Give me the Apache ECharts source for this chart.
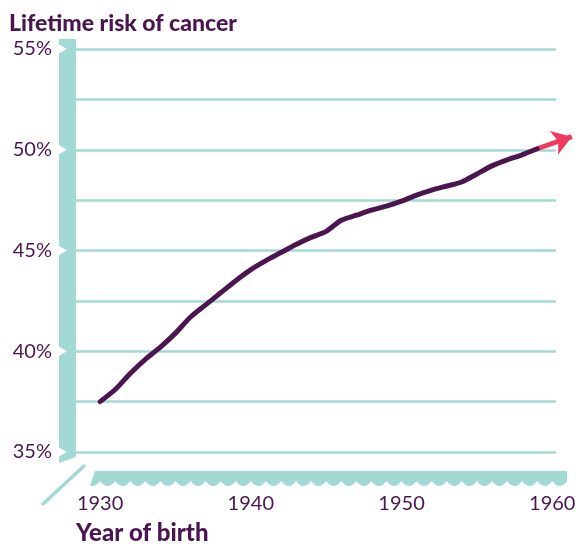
<!DOCTYPE html>
<html>
	<head>
		<meta charset="utf-8" />
		<title>Lifetime risk of cancer</title>
		<script src="https://cdn.jsdelivr.net/npm/echarts@6/dist/echarts.min.js"></script>
		<style type="text/css">
			html,body{margin:0;padding:0;background:#fff;}
			#main{width:580px;height:544px;}
		</style>
	</head>
	<body>
		<div id="main"></div>
		<script type="text/javascript">
			// data
			var years = [1930,1931,1932,1933,1934,1935,1936,1937,1938,1939,1940,1941,1942,1943,1944,1945,1946,1947,1948,1949,1950,1951,1952,1953,1954,1955,1956,1957,1958,1959];
			var risk = [37.5,38.1,38.9,39.6,40.2,40.9,41.7,42.3,42.9,43.5,44.05,44.5,44.9,45.3,45.65,45.95,46.5,46.75,47.0,47.2,47.45,47.75,48.0,48.2,48.4,48.8,49.2,49.5,49.75,50.05];
			// projection arrow (start / end)
			var arrowFrom = [1959, 50.05];
			var arrowTo = [1961.3, 50.65];
			var xTicks = [1930, 1940, 1950, 1960];

			var purple = '#4b1650';
			var teal = '#a3d9d5';
			var pink = '#ef3a5e';
			var font = 'Lato, "Open Sans", sans-serif';

			var pts = years.map(function(y, i){ return [y, risk[i]]; });

			var myChart = echarts.init(document.getElementById('main'));
			var option = {
				animation: false,
				title: [{
					text: 'Lifetime risk of cancer',
					left: 4, top: 7,
					textStyle: {color: purple, fontFamily: font, fontSize: 23, fontWeight: 900}
				}, {
					text: 'Year of birth',
					left: 71, top: 516,
					textStyle: {color: purple, fontFamily: font, fontSize: 24, fontWeight: 900}
				}],
				grid: {left: 76, right: 24, top: 49, bottom: 92},
				xAxis: {
					type: 'value', min: 1928.4, max: 1960.25,
					axisLine: {show: false}, axisTick: {show: false}, splitLine: {show: false},
					axisLabel: {
						customValues: xTicks,
						margin: 42, color: purple, fontFamily: font, fontSize: 20,
						formatter: function(v){ return String(v); }
					}
				},
				yAxis: {
					type: 'value', min: 35, max: 55, interval: 2.5,
					axisLine: {show: false}, axisTick: {show: false},
					splitLine: {show: true, lineStyle: {color: teal, width: 2.5}},
					axisLabel: {
						margin: 24, color: purple, fontFamily: font, fontSize: 20,
						formatter: function(v){ return v % 5 === 0 ? v + '%' : ''; }
					}
				},
				series: [{
					type: 'line',
					data: pts,
					smooth: 0.25,
					symbol: 'none',
					clip: false,
					z: 3,
					lineStyle: {color: purple, width: 5, cap: 'round', join: 'round'}
				}, {
					type: 'lines',
					coordinateSystem: 'cartesian2d',
					clip: false,
					silent: true,
					z: 2,
					symbol: ['none', 'arrow'],
					symbolSize: 19,
					lineStyle: {color: pink, width: 5, opacity: 1},
					data: [{coords: [arrowFrom, arrowTo]}]
				}]
			};
			myChart.setOption(option);

			// decorations: teal axis bands, notches, axis break
			function px(x){ return myChart.convertToPixel({gridIndex: 0}, [x, 35])[0]; }
			function py(y){ return myChart.convertToPixel({gridIndex: 0}, [1930, y])[1]; }
			var gl = px(1928.4), y35 = py(35), y55 = py(55);
			var g = [];
			// left band
			g.push({type: 'polygon', z: 1, shape: {points: [[gl-17, y55-10], [gl, y55-10], [gl, y35+5], [gl-17, y35+11]]}, style: {fill: teal}});
			[35, 40, 45, 50, 55].forEach(function(v){
				var y = py(v);
				g.push({type: 'polygon', z: 2, shape: {points: [[gl-17, y-4.5], [gl-9, y], [gl-17, y+4.5]]}, style: {fill: '#fff'}});
			});
			// bottom band with scalloped edge
			var bt = y35 + 19, bb = y35 + 34, peak = 5;
			var p = px(1931) - px(1930);
			var x0 = 90, x1 = 567;
			var poly = [[x0 + 5, bt], [x1, bt]];
			for (var x = x1; x >= x0; x -= 0.5) {
				var k = (x - px(1930)) / p;
				var d = Math.abs(k - Math.round(k)) * p;
				var t = (p / 2 - d) / (p / 2);
				poly.push([x, bb - peak * t * t]);
			}
			g.push({type: 'polygon', z: 1, shape: {points: poly}, style: {fill: teal}});
			// axis break stroke
			g.push({type: 'line', z: 1, shape: {x1: gl-33, y1: y35+52, x2: gl+8, y2: y35+14}, style: {stroke: teal, lineWidth: 3.5, lineCap: 'round'}});
			myChart.setOption({graphic: g});
		</script>
	</body>
</html>
